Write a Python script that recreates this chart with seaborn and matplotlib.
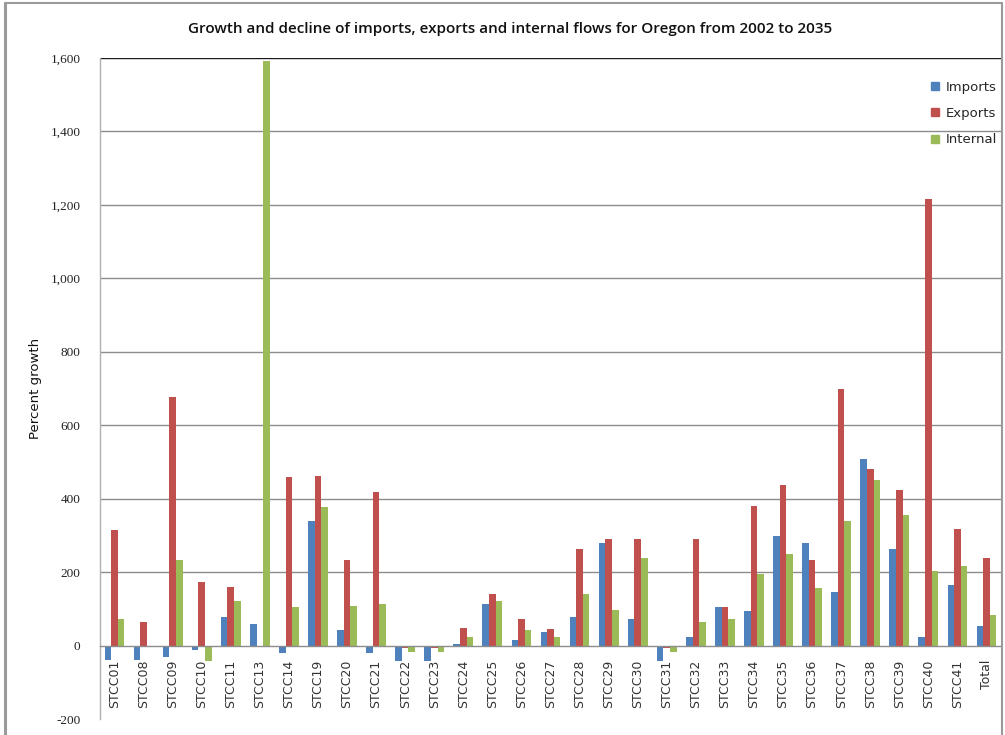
import matplotlib
matplotlib.use("Agg")
import matplotlib.pyplot as plt
from matplotlib.ticker import FuncFormatter, FixedLocator
from matplotlib.lines import Line2D
import seaborn as sns
import pandas as pd

# Commodity groups (STCC codes) plus the overall total
categories = ["STCC01", "STCC08", "STCC09", "STCC10", "STCC11", "STCC13", "STCC14",
              "STCC19", "STCC20", "STCC21", "STCC22", "STCC23", "STCC24", "STCC25",
              "STCC26", "STCC27", "STCC28", "STCC29", "STCC30", "STCC31", "STCC32",
              "STCC33", "STCC34", "STCC35", "STCC36", "STCC37", "STCC38", "STCC39",
              "STCC40", "STCC41", "Total"]

# Percent growth 2002-2035
imports = [-38, -38, -32, -13, 79, 60, -21, 340, 41, -21, -41, -41, 5, 112, 16, 38,
           79, 278, 73, -41, 24, 106, 93, 297, 280, 147, 509, 264, 22, 166, 52]
exports = [316, 65, 678, 174, 160, 0, 460, 463, 234, 419, -7, -7, 49, 141, 71, 44,
           264, 291, 291, -7, 291, 106, 381, 438, 234, 699, 482, 424, 1217, 318, 239]
internal = [73, 0, 234, -41, 120, 1592, 106, 378, 109, 112, -18, -18, 24, 120, 41, 22,
            141, 98, 239, -18, 65, 73, 196, 248, 158, 340, 452, 356, 204, 218, 84]

series_names = ["Imports", "Exports", "Internal"]
y_ticks = [-200, 0, 200, 400, 600, 800, 1000, 1200, 1400, 1600]

colors = ["#4F81BD", "#C0504D", "#9BBB59"]

df = pd.DataFrame({
    "category": categories * 3,
    "growth": imports + exports + internal,
    "flow": [s for s in series_names for _ in categories],
})

sns.set_style("white")
fig = plt.figure(figsize=(10.05, 7.35), dpi=100)
W, H = 1005, 735
ax = fig.add_axes([100 / W, 1 - 719 / H, 901 / W, (719 - 58) / H])

sns.barplot(data=df, x="category", y="growth", hue="flow", order=categories,
            hue_order=series_names, palette=colors, saturation=1, width=0.68,
            ax=ax, legend=False, linewidth=0)

ax.set_xlim(-0.5, len(categories) - 0.5)
ax.set_ylim(-200, 1600)

# horizontal gridlines
for v in y_ticks:
    if v > 0:
        ax.axhline(v, color="#1a1a1a" if v == 1600 else "#8c8c8c", lw=1.0, zorder=0)

for s in ["top", "right"]:
    ax.spines[s].set_visible(False)
ax.spines["left"].set_color("#b0b0b0")
ax.spines["left"].set_linewidth(1.0)
ax.spines["bottom"].set_position(("data", 0))
ax.spines["bottom"].set_color("#8c8c8c")
ax.spines["bottom"].set_linewidth(1.0)

ax.yaxis.set_major_locator(FixedLocator(y_ticks))
ax.yaxis.set_major_formatter(FuncFormatter(lambda v, p: f"{int(v):,}"))
ax.tick_params(axis="y", direction="out", length=5, width=1, color="#8c8c8c",
               pad=9, labelsize=9.5, labelcolor="#222222")
for lab in ax.get_yticklabels():
    lab.set_family("Liberation Serif")

ax.set_xticks(range(len(categories)))
ax.set_xticklabels(categories, rotation=90, va="top", ha="center",
                   fontsize=9, family="DejaVu Sans", color="#333333")
ax.tick_params(axis="x", which="major", length=0, pad=10)
ax.set_xticks([i + 0.5 for i in range(-1, len(categories))], minor=True)
ax.tick_params(axis="x", which="minor", direction="out", length=5, width=1,
               color="#c8c8c8")
ax.set_xlabel("")
ax.set_ylabel("Percent growth", fontsize=9.5, family="DejaVu Sans", labelpad=6,
              color="#111111")

fig.text(0.508, 1 - 29 / H, "Growth and decline of imports, exports and internal flows for Oregon from 2002 to 2035",
         ha="center", va="center", fontsize=10.95, fontweight="semibold", family="Open Sans",
         color="#111111")

handles = [Line2D([0], [0], marker="s", color="none", markerfacecolor=c,
                  markeredgecolor=c, markersize=6) for c in colors]
fig.legend(handles, series_names, loc="upper left", bbox_to_anchor=(918 / W, 1 - 69 / H),
           frameon=False, handlelength=0.8, handletextpad=0.4,
           labelspacing=1.0, prop={"family": "DejaVu Sans", "size": 9.5})

# chart area border
border_color = "#9a9a9a"
fig.add_artist(Line2D([5 / W, 5 / W], [0, 1 - 3 / H], color=border_color, lw=2.2,
                      transform=fig.transFigure))
fig.add_artist(Line2D([5 / W, 1002 / W], [1 - 3 / H, 1 - 3 / H], color=border_color,
                      lw=1.5, transform=fig.transFigure))
fig.add_artist(Line2D([1002 / W, 1002 / W], [0, 1 - 3 / H], color=border_color, lw=1.5,
                      transform=fig.transFigure))

fig.savefig("out.png", dpi=100)
